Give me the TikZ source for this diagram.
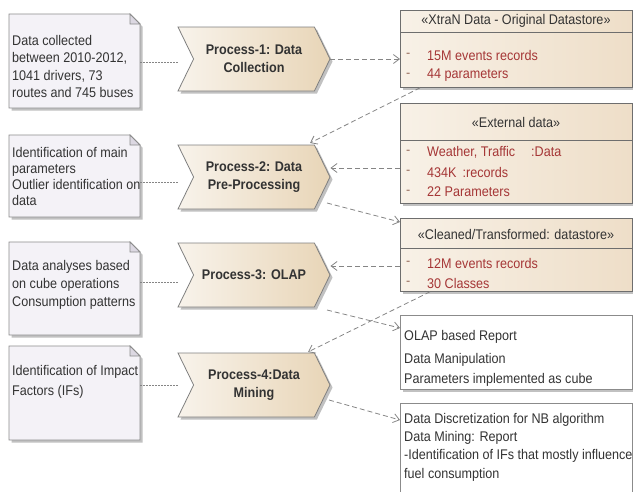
\documentclass[tikz,border=0pt]{standalone}
\usepackage{fontspec}
\setmainfont{Liberation Sans}[FakeStretch=0.9]
\usetikzlibrary{shapes.symbols,shadows,arrows.meta,backgrounds}
\definecolor{notefill}{HTML}{F4F2F7}
\definecolor{notefold}{HTML}{DCD8E2}
\definecolor{noteline}{HTML}{8C8C8C}
\definecolor{proclight}{HTML}{F8F3EB}
\definecolor{procdark}{HTML}{E8D5B7}
\definecolor{procline}{HTML}{7F7F7F}
\definecolor{dslight}{HTML}{F8F1E7}
\definecolor{dsdark}{HTML}{EEDEC8}
\definecolor{dsline}{HTML}{6E6E6E}
\definecolor{attrred}{HTML}{A53636}
\definecolor{dashgrey}{HTML}{9A7060}
\definecolor{conn}{HTML}{858585}
\definecolor{txt}{HTML}{333333}
\tikzset{
  shadowstyle/.style={drop shadow={shadow xshift=2.5pt, shadow yshift=-2.5pt, opacity=0.35, fill=black!70}},
  notebox/.style={rectangle, draw=none, inner sep=0pt, outer sep=0pt},
  noteshape/.style={fill=notefill, draw=noteline, line width=0.8pt, shadowstyle},
  notetext/.style={anchor=west, align=left, inner sep=0pt, text=txt},
  process/.style={signal, signal to=east, signal from=west, signal pointer angle=128,
    minimum width=152pt, minimum height=64pt, left color=proclight, right color=procdark,
    draw=procline, line width=0.8pt, shadowstyle, font=\bfseries\fontsize{14}{18}\selectfont,
    align=center, text=txt, inner sep=2pt},
  dsbox/.style={rectangle, minimum width=232pt, left color=dslight, right color=dsdark,
    draw=dsline, line width=0.8pt, shadowstyle, inner sep=0pt},
  rptbox/.style={rectangle, minimum width=232pt, fill=white, draw=dsline!80, line width=0.8pt,
    shadowstyle, inner sep=0pt},
  divider/.style={draw=dsline, line width=0.8pt},
  hdr/.style={font=\fontsize{14}{17}\selectfont, text=txt, inner sep=0pt},
  attr/.style={anchor=west, font=\fontsize{14}{17}\selectfont, text=attrred, inner sep=0pt},
  attrdash/.style={anchor=west, font=\fontsize{14}{17}\selectfont, text=dashgrey, inner sep=0pt},
  rpttext/.style={anchor=west, align=left, inner sep=0pt, text=txt},
  flow/.style={draw=conn, line width=0.8pt, dash pattern=on 5pt off 3pt, -{Straight Barb[length=6pt,width=9pt]}},
  link/.style={draw=conn, line width=0.8pt, dash pattern=on 1.5pt off 1.5pt},
}
\begin{document}
\begin{tikzpicture}[x=1pt,y=-1pt]
\useasboundingbox (0,0) rectangle (633,491);

% notes
\node[notebox, minimum width=131pt, minimum height=94pt, anchor=north west] (n1) at (9,14) {};
\node[notebox, minimum width=131pt, minimum height=82pt, anchor=north west] (n2) at (9,135) {};
\node[notebox, minimum width=131pt, minimum height=93pt, anchor=north west] (n3) at (9,242) {};
\node[notebox, minimum width=131pt, minimum height=94pt, anchor=north west] (n4) at (9,346) {};
\begin{scope}[on background layer]
\foreach \n in {n1,n2,n3,n4}{
  \path[noteshape] (\n.north west) -- ([xshift=-10pt]\n.north east) -- ([yshift=-10pt]\n.north east)
     -- (\n.south east) -- (\n.south west) -- cycle;
  \path[fill=notefold, draw=noteline, line width=0.8pt] ([xshift=-10pt]\n.north east)
     -- ([xshift=-10pt,yshift=-10pt]\n.north east) -- ([yshift=-10pt]\n.north east) -- cycle;
}
\end{scope}
\node[notetext, font=\fontsize{14}{17.3}\selectfont] (t1) at (12,66.5)
  {Data collected\\between 2010-2012,\\1041 drivers, 73\\routes and 745 buses};
\node[notetext, font=\fontsize{14}{16}\selectfont] (t2) at (12,176)
  {Identification of main\\parameters\\Outlier identification on\\data};
\node[notetext, font=\fontsize{14}{18}\selectfont] (t3) at (12,285)
  {Data analyses based\\on cube operations\\Consumption patterns};
\node[notetext, font=\fontsize{14}{20}\selectfont] (t4) at (12,381.5)
  {Identification of Impact\\Factors (IFs)};

% processes
\node[process] (p1) at (254,59) {Process-1: Data\\Collection};
\node[process] (p2) at (254,177) {Process-2: Data\\Pre-Processing};
\node[process] (p3) at (254,275) {Process-3: OLAP};
\node[process] (p4) at (254,385) {Process-4:Data\\Mining};
\coordinate (p1w) at (178,62);
\coordinate (p2w) at (178,182);
\coordinate (p3w) at (178,282);
\coordinate (p4w) at (178,385);
\coordinate (p2ne) at (310,143);
\coordinate (p2se) at (327,203);
\coordinate (p3se) at (327,310);
\coordinate (p4ne) at (308,352);
\coordinate (p4se) at (329,400);

% datastores
\node[dsbox, minimum height=77pt, anchor=north west] (ds1) at (400,10) {};
\draw[divider] (ds1.west |- 0,32) -- (ds1.east |- 0,32);
\node[hdr] (h1) at (516,21) {«XtraN Data - Original Datastore»};
\node[attrdash] (d11) at (406,55) {-};
\node[attr] (i11) at (427,55) {15M events records};
\node[attrdash] (d12) at (406,75) {-};
\node[attr] (i12) at (427,75) {44 parameters};

\node[dsbox, minimum height=100pt, anchor=north west] (ds2) at (400,103) {};
\draw[divider] (ds2.west |- 0,140) -- (ds2.east |- 0,140);
\node[hdr] (h2) at (516,122) {«External data»};
\node[attrdash] (d21) at (406,152) {-};
\node[attr] (i21) at (427,152) {Weather, Traffic\hspace{16pt}:Data};
\node[attrdash] (d22) at (406,172) {-};
\node[attr] (i22) at (427,172) {434K\hspace{6pt}:records};
\node[attrdash] (d23) at (406,192) {-};
\node[attr] (i23) at (427,192) {22 Parameters};

\node[dsbox, minimum height=73pt, anchor=north west] (ds3) at (400,218) {};
\draw[divider] (ds3.west |- 0,248) -- (ds3.east |- 0,248);
\node[hdr] (h3) at (516,234) {«Cleaned/Transformed: datastore»};
\node[attrdash] (d31) at (406,263) {-};
\node[attr] (i31) at (427,263) {12M events records};
\node[attrdash] (d32) at (406,283) {-};
\node[attr] (i32) at (427,283) {30 Classes};

% reports
\node[rptbox, minimum height=74pt, anchor=north west] (r1) at (400,315) {};
\node[rpttext, font=\fontsize{14}{20}\selectfont] (rt1) at (404,358)
  {OLAP based Report\\[3pt]Data Manipulation\\Parameters implemented as cube};
\begin{scope}
\clip (0,0) rectangle (633,491);
\node[rptbox, minimum height=100pt, anchor=north west] (r2) at (400,403) {};
\end{scope}
\node[rpttext, font=\fontsize{14}{18.3}\selectfont] (rt2) at (404,447)
  {Data Discretization for NB algorithm\\Data Mining: Report\\-Identification of IFs that mostly influence\\fuel consumption};

% note links
\draw[link] (n1.east |- p1w) -- (p1w);
\draw[link] (n2.east |- p2w) -- (p2w);
\draw[link] (n3.east |- p3w) -- (p3w);
\draw[link] (n4.east |- p4w) -- (p4w);

% flows
\draw[flow] (p1.east) -- (ds1.west |- p1.east);
\draw[flow] ([xshift=20pt]ds1.south west) -- (p2ne);
\draw[flow] (ds2.west |- 0,168) -- (p2.east |- 0,168);
\draw[flow] (p2se) -- (ds3.west |- 0,222);
\draw[flow] (ds3.west |- 0,266) -- (p3.east |- 0,266);
\draw[flow] ([xshift=30pt]ds3.south west) -- (p4ne);
\draw[flow] (p3se) -- (r1.west |- 0,328);
\draw[flow] (p4se) -- (r2.west |- 0,420);
\end{tikzpicture}
\end{document}
